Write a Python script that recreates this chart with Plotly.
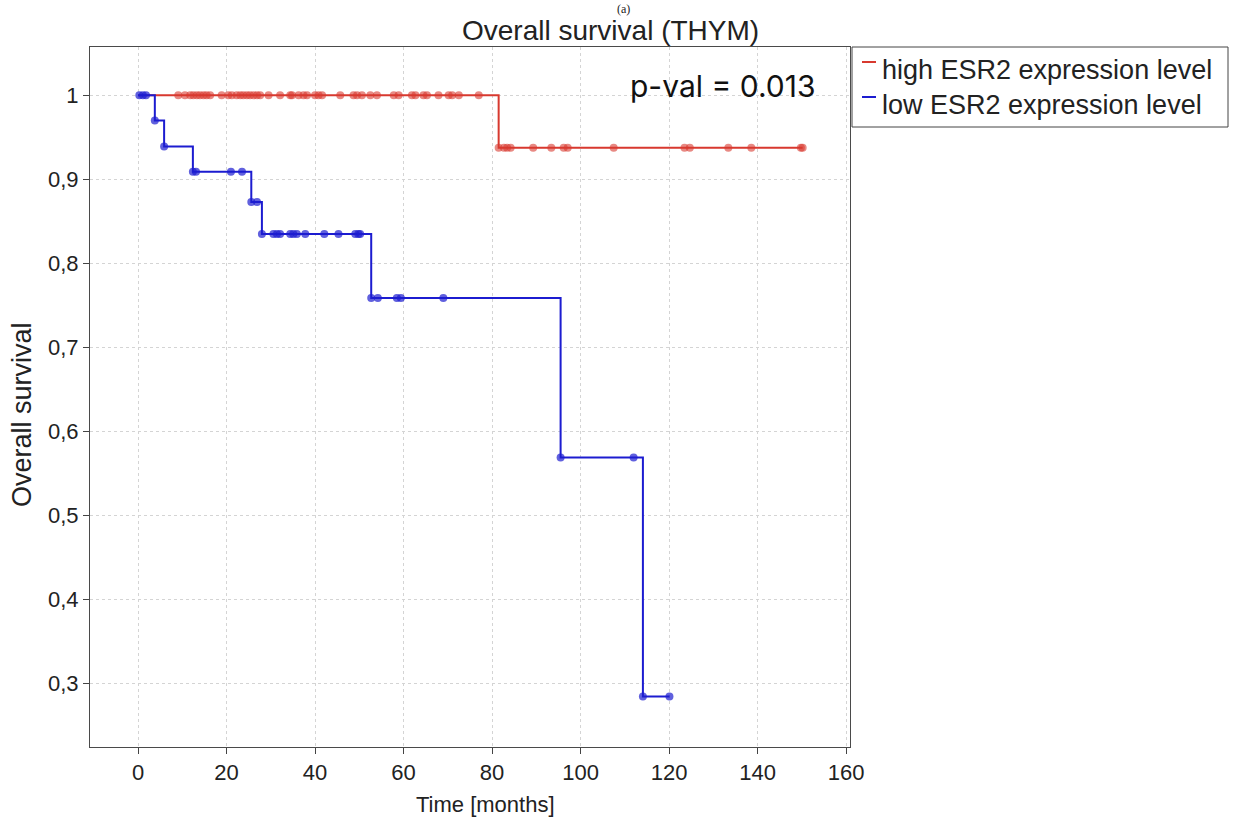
import plotly.graph_objects as go

# ---------------- data ----------------
high_times = [0, 9.1, 10.6, 11.8, 12.5, 13.3, 14.0, 14.8, 15.5, 16.3, 18.9, 20.4, 21.2, 22.3,
              23.1, 23.8, 24.6, 25.3, 26.1, 26.9, 27.6, 29.5, 32.1, 34.4, 34.8, 36.3, 37.4,
              38.2, 40.0, 40.8, 41.6, 45.7, 48.7, 49.5, 50.6, 52.5, 54.0, 57.8, 58.9, 61.9,
              62.7, 64.5, 65.3, 67.9, 70.2, 71.0, 72.5, 77.0,
              81.5, 82.7, 83.4, 84.2, 89.3, 93.4, 96.2, 97.1, 107.5, 123.5, 124.7, 133.4,
              138.6, 149.8, 150.2]
high_surv = [1.0] * 48 + [0.9375] * 15

low_times = [0, 0.3, 1.1, 1.8, 3.8, 5.9, 12.4, 13.1, 21.0, 23.5, 25.6, 26.9, 28.0,
             30.6, 31.4, 32.1, 34.4, 35.1, 35.9, 37.8, 42.1, 45.3, 49.1, 49.8, 50.2,
             52.7, 54.2, 58.5, 59.4, 69.0, 95.5, 112.0, 114.1, 120.1]
low_surv = [1.0, 1.0, 1.0, 1.0, 0.970, 0.939, 0.909, 0.909, 0.909, 0.909, 0.873, 0.873,
            0.835, 0.835, 0.835, 0.835, 0.835, 0.835, 0.835, 0.835, 0.835, 0.835, 0.835,
            0.835, 0.835, 0.759, 0.759, 0.759, 0.759, 0.759, 0.569, 0.569, 0.285, 0.285]

x_ticks = [0, 20, 40, 60, 80, 100, 120, 140, 160]
y_ticks = [0.3, 0.4, 0.5, 0.6, 0.7, 0.8, 0.9, 1.0]
y_ticklabels = ["0,3", "0,4", "0,5", "0,6", "0,7", "0,8", "0,9", "1"]

series_names = ["high ESR2 expression level", "low ESR2 expression level"]
RED = "#d8392f"
BLUE = "#1c1cd0"

# ---------------- figure ----------------
W, H = 1234, 824
L, R, T, B = 90, 384, 47, 77
PW, PH = W - L - R, H - T - B

fig = go.Figure()


def msizes(n):
    return [0] + [8] * (n - 1)


fig.add_trace(go.Scatter(
    x=high_times, y=high_surv, mode="lines+markers", line_shape="hv",
    line=dict(color=RED, width=2),
    marker=dict(color="rgba(216,57,47,0.85)", size=msizes(len(high_times)), line=dict(width=0)),
    name=series_names[0], showlegend=False))

fig.add_trace(go.Scatter(
    x=low_times, y=low_surv, mode="lines+markers", line_shape="hv",
    line=dict(color=BLUE, width=2),
    marker=dict(color=BLUE, size=msizes(len(low_times)), line=dict(width=0)),
    name=series_names[1], showlegend=False))

SANS = "Liberation Sans, Arial"
AX_FONT_X = dict(family=SANS, size=22, color="#222")
AX_FONT_Y = dict(family=SANS, size=22, color="#222")

fig.update_xaxes(
    range=[-10.85, 160.9], tickvals=x_ticks, ticks="outside", ticklen=6, tickcolor="#444",
    showline=True, linecolor="#4a4a4a", linewidth=1, mirror=True,
    showgrid=True, gridcolor="#d4d4d4", griddash="dot", gridwidth=1,
    zeroline=False, tickfont=AX_FONT_X)

fig.update_yaxes(
    range=[0.2248, 1.0574], tickvals=y_ticks, ticktext=y_ticklabels, ticks="outside", ticklen=6,
    tickcolor="#444", showline=True, linecolor="#4a4a4a", linewidth=1, mirror=True,
    showgrid=True, gridcolor="#d4d4d4", griddash="dot", gridwidth=1,
    zeroline=False, tickfont=AX_FONT_Y)


def px(xp):
    return (xp - L) / PW


def py(yp):
    return (H - B - yp) / PH


def ann(text, x, y, font, xanchor="center", yanchor="middle", textangle=0):
    return dict(text=text, x=px(x), y=py(y), xref="paper", yref="paper",
                xanchor=xanchor, yanchor=yanchor, showarrow=False, textangle=textangle,
                font=font)


annotations = [
    ann("Overall survival (THYM)", 610, 30, dict(family=SANS, size=28, color="#222")),
    ann("(a)", 623, 0, dict(family="Liberation Serif, Times New Roman", size=12, color="#222"),
        yanchor="top"),
    ann("p-val = 0.013", 722, 86, dict(family="Inter, Open Sans", size=30, color="#111")),
    ann(series_names[0], 880, 70, dict(family=SANS, size=27, color="#222"), xanchor="left"),
    ann(series_names[1], 880, 105, dict(family=SANS, size=27, color="#222"), xanchor="left"),
    ann("Time [months]", 486, 805, dict(family=SANS, size=22, color="#222")),
    ann("Overall survival", 22, 415, dict(family=SANS, size=27, color="#222"), textangle=-90),
]

shapes = [
    dict(type="rect", xref="paper", yref="paper", x0=px(852), x1=px(1228), y0=py(47), y1=py(127),
         line=dict(color="#444", width=1), fillcolor="white", layer="above"),
    dict(type="line", xref="paper", yref="paper", x0=px(862), x1=px(876), y0=py(62), y1=py(62),
         line=dict(color=RED, width=2)),
    dict(type="line", xref="paper", yref="paper", x0=px(862), x1=px(876), y0=py(97), y1=py(97),
         line=dict(color=BLUE, width=2)),
]

fig.update_layout(
    width=W, height=H, autosize=False,
    margin=dict(l=L, r=R, t=T, b=B),
    paper_bgcolor="white", plot_bgcolor="white",
    annotations=annotations, shapes=shapes, showlegend=False)

fig.write_html("out.html")
